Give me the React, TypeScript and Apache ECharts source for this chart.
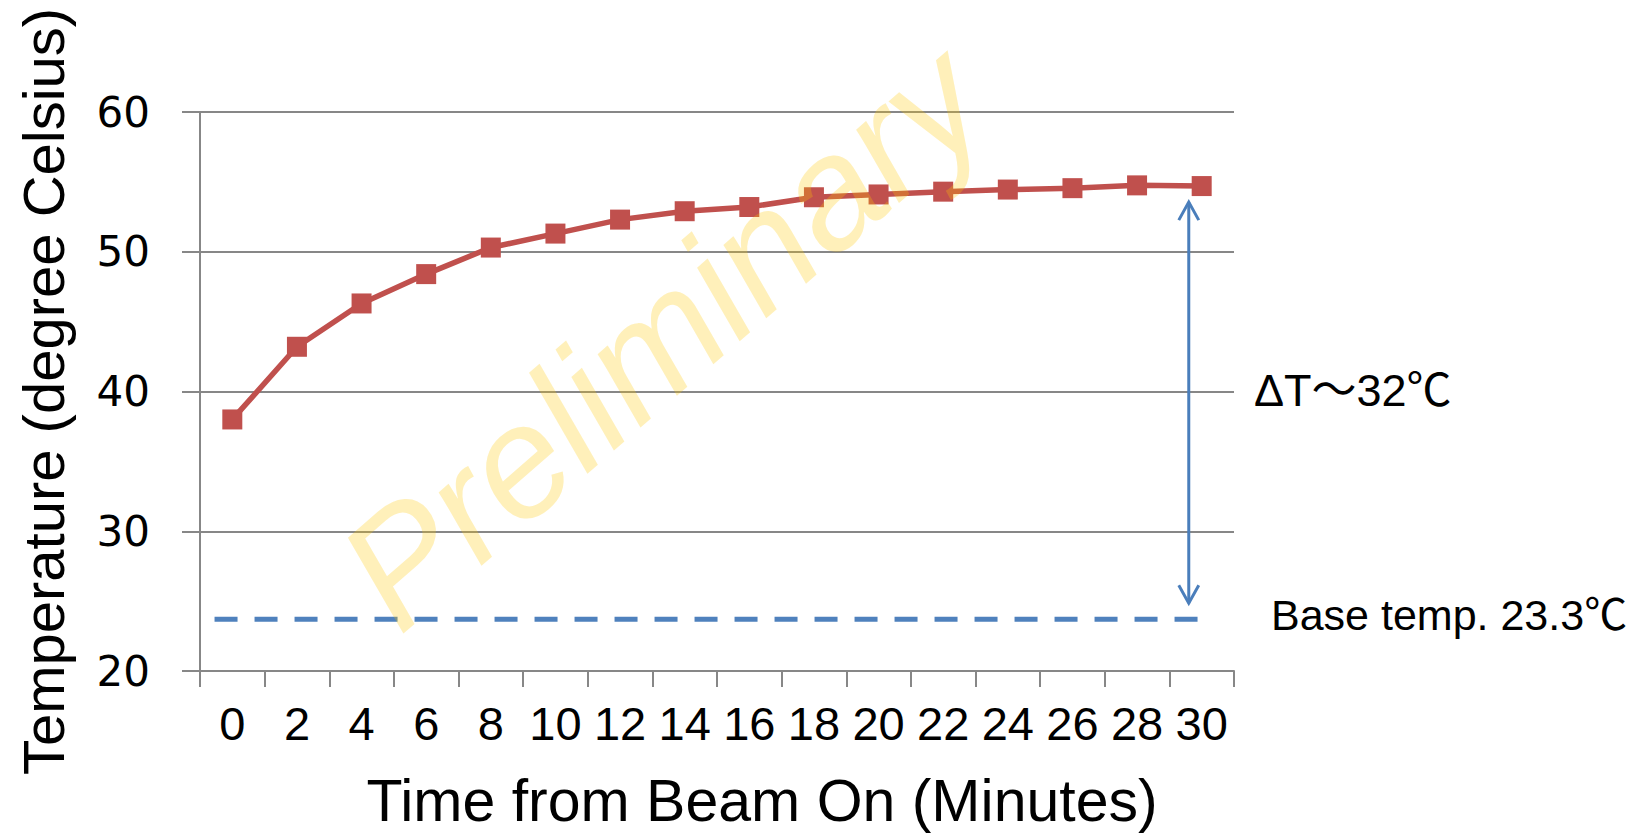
import React, { useEffect, useRef } from "react";
import * as echarts from "echarts";

// ---- data ----
const minutes = ["0", "2", "4", "6", "8", "10", "12", "14", "16", "18", "20", "22", "24", "26", "28", "30"];
const temperature = [38.0, 43.2, 46.3, 48.4, 50.3, 51.3, 52.3, 52.9, 53.2, 53.9, 54.1, 54.3, 54.45, 54.55, 54.75, 54.7];
const yMin = 20;
const yMax = 60;
const yInterval = 10;

// base temperature dashed line (drawn position) and its extent in minutes
const baseTempDrawn = 23.7;
const baseLineFromMinute = -0.55;
const baseLineToMinute = 30;

// delta-T arrow
const arrowMinute = 29.6;
const arrowTopValue = 53.55;
const arrowBottomValue = 24.85;

const deltaLabel = "ΔT～32℃";
const baseLabel = "Base temp. 23.3℃";
const watermark = "Preliminary";
const xTitle = "Time from Beam On (Minutes)";
const yTitle = "Temperature (degree Celsius)";

const GRAY = "#878787";
const RED = "#c0504d";
const BLUE = "#4f81bd";
const ARROW_BLUE = "#4a7ebb";
const SANS = "'Liberation Sans', Arial, 'Noto Sans CJK JP', sans-serif";

export default function App() {
  const ref = useRef<HTMLDivElement>(null);

  useEffect(() => {
    if (!ref.current) return;
    const chart = echarts.init(ref.current, null, { renderer: "svg" });

    const option: any = {
      animation: false,
      backgroundColor: "#ffffff",
      grid: { left: 200, right: 399, top: 112, bottom: 163, outerBoundsMode: "none" },
      xAxis: {
        type: "category",
        data: minutes,
        boundaryGap: true,
        axisLine: { show: true, lineStyle: { color: GRAY, width: 2 } },
        axisTick: { show: true, length: 16, alignWithLabel: false, lineStyle: { color: GRAY, width: 2 } },
        axisLabel: { interval: 0, margin: 29, color: "#000", fontSize: 47, fontFamily: SANS },
        splitLine: { show: false },
        name: xTitle,
        nameLocation: "middle",
        nameGap: 100,
        nameTextStyle: { color: "#000", fontSize: 59, fontFamily: SANS, padding: [0, 0, 0, 90] },
      },
      yAxis: {
        type: "value",
        min: yMin,
        max: yMax,
        interval: yInterval,
        axisLine: { show: true, lineStyle: { color: GRAY, width: 2 } },
        axisTick: { show: true, length: 18, lineStyle: { color: GRAY, width: 2 } },
        axisLabel: { margin: 50, color: "#000", fontSize: 42, fontFamily: "'DejaVu Sans', sans-serif" },
        splitLine: { show: true, lineStyle: { color: GRAY, width: 2 } },
        name: yTitle,
        nameLocation: "middle",
        nameGap: 128,
        nameTextStyle: { color: "#000", fontSize: 58, fontFamily: SANS },
      },
      series: [
        {
          type: "line",
          data: temperature,
          symbol: "rect",
          symbolSize: 20,
          lineStyle: { color: RED, width: 5.5 },
          itemStyle: { color: RED },
          z: 3,
        },
      ],
    };
    chart.setOption(option);

    const x0 = chart.convertToPixel({ xAxisIndex: 0 }, 0) as number;
    const xN = chart.convertToPixel({ xAxisIndex: 0 }, minutes.length - 1) as number;
    const lastMinute = Number(minutes[minutes.length - 1]);
    const mx = (m: number) => x0 + (m / lastMinute) * (xN - x0);
    const vy = (v: number) => chart.convertToPixel({ yAxisIndex: 0 }, v) as number;

    const baseY = vy(baseTempDrawn);
    const ax = mx(arrowMinute);
    const aTop = vy(arrowTopValue);
    const aBot = vy(arrowBottomValue);
    const head = 18;
    const half = 10;

    chart.setOption({
      graphic: [
        {
          type: "line",
          shape: { x1: mx(baseLineFromMinute), y1: baseY, x2: mx(baseLineToMinute), y2: baseY },
          style: { stroke: BLUE, lineWidth: 5, lineDash: [23, 17] },
          z: 2,
        },
        {
          type: "line",
          shape: { x1: ax, y1: aTop, x2: ax, y2: aBot },
          style: { stroke: ARROW_BLUE, lineWidth: 3 },
          z: 2,
        },
        {
          type: "polyline",
          shape: { points: [[ax - half, aTop + head], [ax, aTop], [ax + half, aTop + head]] },
          style: { stroke: ARROW_BLUE, lineWidth: 3, fill: null },
          z: 2,
        },
        {
          type: "polyline",
          shape: { points: [[ax - half, aBot - head], [ax, aBot], [ax + half, aBot - head]] },
          style: { stroke: ARROW_BLUE, lineWidth: 3, fill: null },
          z: 2,
        },
        {
          type: "text",
          x: 1254,
          y: 390,
          style: { text: deltaLabel, fill: "#000", fontSize: 45, fontFamily: SANS, align: "left", verticalAlign: "middle" },
          z: 5,
        },
        {
          type: "text",
          x: 1271,
          y: 615,
          style: { text: baseLabel, fill: "#000", fontSize: 43, fontFamily: SANS, align: "left", verticalAlign: "middle" },
          z: 5,
        },
        {
          type: "text",
          x: 662,
          y: 336,
          rotation: (41 * Math.PI) / 180,
          style: {
            text: watermark,
            fill: "rgba(255, 200, 0, 0.27)",
            fontSize: 158,
            fontStyle: "italic",
            fontFamily: SANS,
            align: "center",
            verticalAlign: "middle",
          },
          z: 100,
        },
      ],
    });

    return () => chart.dispose();
  }, []);

  return (
    <div
      ref={ref}
      style={{ position: "fixed", left: 0, top: 0, width: "1633px", height: "834px", background: "#fff" }}
    />
  );
}
